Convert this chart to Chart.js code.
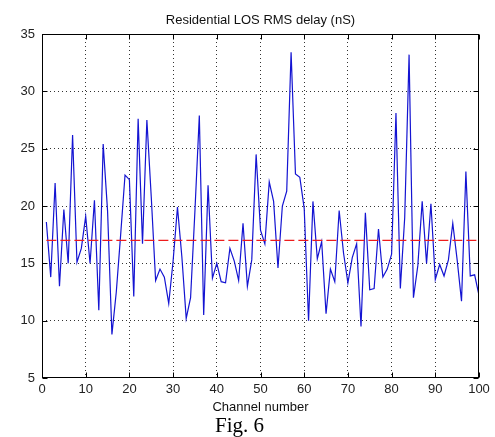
<!DOCTYPE html>
<html>
<head>
<meta charset="utf-8">
<script src="https://cdn.jsdelivr.net/npm/chart.js@4.4.0/dist/chart.umd.min.js"></script>
<style>
    html, body { margin: 0; padding: 0; background: #fff; }
    #wrap { width: 495px; height: 437px; }
</style>
</head>
<body>
<div id="wrap"><canvas id="delayChart" width="495" height="437"></canvas></div>
<script>
// Kanalnummern und RMS-Delay (nS)
const channels = [
    1, 2, 3, 4, 5, 6, 7, 8, 9, 10,
    11, 12, 13, 14, 15, 16, 17, 18, 19, 20,
    21, 22, 23, 24, 25, 26, 27, 28, 29, 30,
    31, 32, 33, 34, 35, 36, 37, 38, 39, 40,
    41, 42, 43, 44, 45, 46, 47, 48, 49, 50,
    51, 52, 53, 54, 55, 56, 57, 58, 59, 60,
    61, 62, 63, 64, 65, 66, 67, 68, 69, 70,
    71, 72, 73, 74, 75, 76, 77, 78, 79, 80,
    81, 82, 83, 84, 85, 86, 87, 88, 89, 90,
    91, 92, 93, 94, 95, 96, 97, 98, 99, 100
];
const rmsDelay = [
    18.6, 13.8, 22.0, 13.0, 19.7, 15.0, 26.2, 15.1, 16.3, 19.1,
    15.0, 20.5, 10.9, 25.4, 19.6, 8.8, 12.5, 17.5, 22.7, 22.3,
    12.1, 27.6, 16.7, 27.5, 20.8, 13.5, 14.5, 13.8, 11.5, 15.2,
    19.9, 15.6, 10.2, 12.0, 19.6, 27.9, 10.5, 21.8, 13.7, 15.0,
    13.4, 13.3, 16.3, 15.2, 13.5, 18.5, 13.0, 15.3, 24.5, 17.9,
    16.7, 22.1, 20.4, 14.6, 20.0, 21.3, 33.4, 22.8, 22.5, 19.8,
    10.0, 20.4, 15.4, 16.9, 10.6, 14.5, 13.4, 19.6, 15.9, 13.3,
    15.5, 16.7, 9.5, 19.4, 12.7, 12.8, 18.0, 13.8, 14.5, 15.8,
    28.1, 12.8, 19.0, 33.2, 12.0, 14.8, 20.4, 15.0, 20.2, 13.6,
    14.9, 13.9, 15.3, 18.5, 15.3, 11.7, 23.0, 13.9, 14.0, 12.2
];
const meanStart = 1;
const meanEnd = 100;
const meanDelay = 17;
const xTicks = [0, 10, 20, 30, 40, 50, 60, 70, 80, 90, 100];
const yTicks = [5, 10, 15, 20, 25, 30, 35];

const FONT = "'Liberation Sans', Arial, Helvetica, sans-serif";

// Rahmen und nach innen zeigende Ticks (MATLAB-Stil)
const boxPlugin = {
    id: 'boxPlugin',
    afterDatasetsDraw(chart) {
        const { ctx, chartArea: a, scales } = chart;
        const l = Math.round(a.left) + 0.5, r = Math.round(a.right) - 0.5;
        const t = Math.round(a.top) + 0.5, b = Math.round(a.bottom) - 0.5;
        ctx.save();
        ctx.strokeStyle = '#000';
        ctx.lineWidth = 1;
        ctx.setLineDash([]);
        ctx.beginPath();
        xTicks.forEach(v => {
            const x = Math.round(scales.x.getPixelForValue(v)) + 0.5;
            ctx.moveTo(x, b); ctx.lineTo(x, b - 5);
            ctx.moveTo(x, t); ctx.lineTo(x, t + 5);
        });
        yTicks.forEach(v => {
            const y = Math.round(scales.y.getPixelForValue(v)) + 0.5;
            ctx.moveTo(l, y); ctx.lineTo(l + 5, y);
            ctx.moveTo(r, y); ctx.lineTo(r - 5, y);
        });
        ctx.stroke();
        ctx.strokeRect(l, t, r - l, b - t);
        ctx.restore();
    }
};

const gridColor = (ticks) => (c) => {
    const v = c.tick ? c.tick.value : null;
    return (v === ticks[0] || v === ticks[ticks.length - 1]) ? 'rgba(0,0,0,0)' : '#333';
};

new Chart(document.getElementById('delayChart'), {
    type: 'line',
    data: {
        datasets: [
            {
                label: 'Mittelwert',
                data: [{ x: meanStart, y: meanDelay }, { x: meanEnd, y: meanDelay }],
                borderColor: '#ee1c1c',
                borderWidth: 1.2,
                borderDash: [10, 4],
                pointRadius: 0,
                order: 0
            },
            {
                label: 'RMS delay',
                data: channels.map((c, i) => ({ x: c, y: rmsDelay[i] })),
                borderColor: '#1414d2',
                borderWidth: 1.2,
                pointRadius: 0,
                tension: 0,
                order: 1
            }
        ]
    },
    options: {
        responsive: false,
        animation: false,
        layout: { padding: { left: 0, right: 16, top: 0, bottom: 0 } },
        plugins: {
            legend: { display: false },
            tooltip: { enabled: false },
            title: {
                display: true,
                text: 'Residential LOS RMS delay (nS)',
                fullSize: false,
                color: '#111',
                font: { family: FONT, size: 13, weight: 'normal', lineHeight: 1.2 },
                padding: { top: 13, bottom: 5.4 }
            },
            subtitle: {
                display: true,
                position: 'bottom',
                text: 'Fig. 6',
                color: '#000',
                font: { family: "'Liberation Serif', 'Times New Roman', serif", size: 21, weight: 'normal', lineHeight: 1.0 },
                padding: { top: 1, bottom: 0 }
            }
        },
        scales: {
            x: {
                type: 'linear',
                min: 0,
                max: 100,
                afterBuildTicks: s => { s.ticks = xTicks.map(v => ({ value: v })); },
                afterFit: s => { s.height = 37; },
                grid: { color: gridColor(xTicks), lineWidth: 1, drawTicks: false },
                border: { display: false, dash: [1, 3] },
                ticks: {
                    color: '#222',
                    padding: 4,
                    maxRotation: 0,
                    autoSkip: false,
                    font: { family: FONT, size: 13 }
                },
                title: {
                    display: true,
                    text: 'Channel number',
                    color: '#111',
                    padding: { top: 0, bottom: 0 },
                    font: { family: FONT, size: 13 }
                }
            },
            y: {
                min: 5,
                max: 35,
                afterBuildTicks: s => { s.ticks = yTicks.map(v => ({ value: v })); },
                afterFit: s => { s.width = 42; },
                grid: { color: gridColor(yTicks), lineWidth: 1, drawTicks: false },
                border: { display: false, dash: [1, 3] },
                ticks: {
                    color: '#222',
                    padding: 7,
                    font: { family: FONT, size: 13 }
                }
            }
        }
    },
    plugins: [boxPlugin]
});
</script>
</body>
</html>
